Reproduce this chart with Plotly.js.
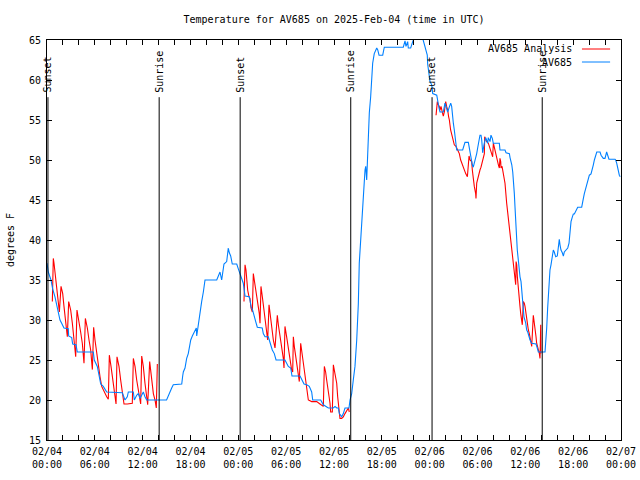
<!DOCTYPE html>
<html>
<head>
<meta charset="utf-8">
<script src="https://cdn.plot.ly/plotly-3.0.1.min.js"></script>
<style>html,body{margin:0;padding:0;background:#fff;}#chart{width:640px;height:480px;}</style>
</head>
<body>
<div id="chart"></div>
<script>
// Hours after 2025-02-04 00:00 UTC
const obsHours = [0,0.16,0.5,0.71,1.0,1.22,1.42,1.63,1.84,2.13,2.67,2.72,3.1,3.22,3.64,3.8,5.81,5.93,6.31,6.52,6.74,7.06,7.49,9.45,9.57,9.78,10.07,10.2,10.83,10.95,11.25,11.45,11.67,12.08,12.29,12.5,15.0,15.22,15.43,15.64,15.84,16.9,17.02,17.1,17.31,17.52,17.72,17.85,18.03,18.23,18.56,18.73,18.78,18.98,19.19,19.4,19.61,19.82,21.29,21.49,21.7,21.91,22.04,22.2,22.54,22.74,22.87,23.04,23.24,23.8,24.0,24.21,24.42,24.62,24.84,25.38,25.46,25.59,25.8,25.97,26.18,26.38,27.0,27.13,27.35,27.76,27.89,28.06,28.26,28.51,28.73,29.85,30.07,30.27,30.57,30.73,31.74,31.95,32.24,32.58,32.9,33.2,33.33,34.33,34.46,34.66,35.29,35.91,36.13,36.34,36.54,36.67,36.97,37.17,37.38,37.88,38.01,38.22,38.42,38.63,38.85,38.97,39.05,39.17,39.35,39.55,39.68,39.89,39.98,40.1,40.18,40.3,40.43,40.6,40.73,40.85,41.05,41.36,41.48,41.65,42.11,42.31,44.69,44.91,45.03,45.24,45.32,45.62,45.87,46.04,47.13,47.29,47.54,47.7,47.75,47.83,47.95,48.04,48.26,48.38,48.89,49.01,49.17,49.3,49.71,49.92,50.14,50.26,50.46,50.64,50.76,50.89,50.97,51.09,51.18,51.3,51.39,52.14,52.34,52.43,52.85,52.97,53.06,53.19,53.35,53.47,53.6,53.77,53.9,54.02,54.15,54.31,54.44,54.53,54.65,54.73,54.85,55.03,55.15,55.28,55.35,55.57,55.69,55.86,55.98,56.74,56.82,57.45,57.58,58.0,58.08,58.3,58.42,58.5,58.62,58.7,58.79,58.92,58.99,59.12,59.21,59.33,59.46,59.54,59.62,59.75,59.83,60.05,60.17,60.3,60.42,60.59,60.8,61.34,61.5,61.63,62.47,62.59,62.68,62.8,62.97,63.09,63.22,63.38,63.51,63.63,63.81,64.01,64.14,64.26,64.35,64.47,64.64,64.77,64.89,65.07,65.32,65.48,65.61,65.73,65.9,66.02,66.15,66.36,66.57,67.07,67.15,67.28,67.4,67.58,67.7,67.91,68.03,68.24,68.33,68.53,68.66,68.83,68.96,69.37,69.5,69.78,69.99,70.2,70.33,70.49,71.25,71.33,71.46,71.58,71.79,71.9];
const obsTemps = [37.1,36.0,35.0,33.9,32.9,31.8,30.8,30.0,29.6,29.0,28.9,28.0,27.8,27.0,26.9,26.0,26.0,25.0,24.2,23.3,22.0,21.7,21.0,20.9,20.5,20.0,20.4,21.0,21.0,20.0,20.6,20.8,20.2,21.0,20.4,20.0,20.0,20.6,21.0,21.5,21.9,22.0,23.0,23.5,24.0,25.2,25.8,26.5,27.5,28.0,28.75,29.0,28.0,29.6,30.6,32.3,33.5,35.0,35.0,35.6,36.0,35.0,36.0,37.0,37.3,39.0,38.4,38.0,37.0,37.0,36.4,35.8,35.2,34.6,33.0,32.9,32.5,31.7,31.2,30.4,29.8,29.1,29.0,28.3,27.9,27.9,27.5,26.9,26.25,25.8,25.0,25.0,24.6,24.2,24.0,23.0,23.0,22.5,22.0,21.9,21.7,21.0,20.0,20.0,19.8,19.4,19.0,19.0,19.2,19.0,19.0,18.3,17.9,18.3,19.0,19.0,20.0,20.8,22.5,24.2,27.5,29.6,32.0,37.1,40.0,43.75,46.25,48.75,49.2,47.5,49.5,53.4,55.9,57.9,60.0,62.1,63.3,64.0,63.8,63.1,63.1,64.1,64.1,64.9,64.2,64.8,64.0,64.0,64.8,65.2,65.2,64.6,64.0,63.1,62.0,61.25,60.0,59.8,59.4,58.3,58.1,57.1,56.5,56.0,56.0,57.1,56.5,56.0,56.6,57.1,56.7,55.8,54.6,53.75,52.7,52.1,51.25,51.25,51.9,52.2,52.2,51.5,50.6,50.0,49.4,49.1,49.6,50.0,50.8,51.5,52.3,53.1,53.1,52.5,50.9,51.5,52.1,52.8,52.5,52.1,52.8,52.3,53.1,52.7,52.1,52.1,51.25,51.25,50.9,50.8,50.3,49.4,48.5,47.7,45.8,44.2,42.1,40.5,38.75,37.5,36.2,35.4,34.8,33.75,32.5,31.5,30.4,29.6,28.75,28.5,27.9,27.5,27.1,27.0,26.5,26.0,26.0,27.3,29.0,31.5,34.6,36.25,36.9,38.3,38.75,38.5,37.9,38.0,39.4,40.1,39.4,38.75,38.4,38.0,38.5,38.75,39.0,39.6,40.8,42.3,42.9,43.25,43.25,43.75,44.1,44.1,44.8,45.2,45.8,46.4,47.1,47.7,48.1,48.25,48.75,49.4,50.0,50.5,51.0,51.0,50.6,50.2,50.2,51.0,50.6,50.1,50.1,50.0,49.6,49.0,48.1,47.9];

const anaHours = [0.67,0.79,0.88,1.09,1.21,1.34,1.55,1.76,1.97,2.13,2.38,2.55,2.72,2.97,3.18,3.3,3.6,3.76,4.01,4.22,4.43,4.64,4.81,5.06,5.27,5.48,5.69,5.85,6.02,6.23,6.44,6.65,6.86,7.15,7.49,7.69,7.82,8.03,8.24,8.4,8.66,8.78,9.03,9.24,9.45,9.66,10.08,10.7,10.83,11.04,11.25,11.54,11.75,11.88,12.08,12.29,12.5,12.63,12.88,13.13,13.34,13.55,13.71,13.84,
 19,
 24.71,24.84,24.96,25.05,25.17,25.34,25.46,25.59,25.76,25.88,26.01,26.17,26.3,26.51,26.63,26.72,26.84,27.01,27.14,27.26,27.43,27.55,27.68,27.85,27.97,28.1,28.26,28.39,28.6,28.89,29.02,29.23,29.35,29.52,29.64,29.73,29.85,30.06,30.19,30.36,30.48,30.69,30.82,30.9,31.02,31.19,31.32,31.53,31.65,31.82,31.94,32.15,32.28,32.45,32.57,32.7,32.78,33.2,33.83,34.24,34.66,34.79,34.95,35.08,35.21,35.37,35.5,35.58,35.79,35.92,36.04,36.21,36.34,36.46,36.54,36.63,36.75,36.96,37.17,37.38,37.59,37.8,37.92,
 43,
 48.8,48.96,49.09,49.21,49.3,49.42,49.63,49.71,49.84,50.01,50.13,50.26,50.38,50.47,50.63,50.89,51.09,51.3,51.51,51.72,51.89,52.1,52.31,52.52,52.73,52.85,52.94,53.06,53.27,53.35,53.48,53.6,53.77,53.81,53.9,54.02,54.19,54.31,54.44,54.61,54.73,54.86,54.9,55.03,55.15,55.36,55.57,55.78,55.9,55.99,56.07,56.2,56.41,56.62,56.74,56.82,56.91,56.95,57.08,57.24,57.37,57.45,57.66,57.87,57.99,58.08,58.29,58.5,58.63,58.71,58.79,58.84,58.92,59.0,59.13,59.21,59.33,59.42,59.54,59.62,59.75,59.87,59.96,60.04,60.17,60.29,60.38,60.5,60.59,60.71,60.8,61.0,61.09,61.17,61.25,61.34,61.42,61.55,61.63,61.76,61.84,61.93,61.95];
const anaTemps = [32.3,37.7,37.1,35.0,34.2,32.7,31.0,34.2,33.3,31.7,29.6,27.9,32.3,31.25,29.6,28.3,25.4,31.25,30.0,28.5,27.1,24.6,30.2,29.0,27.5,26.25,23.8,29.1,27.5,25.8,24.4,22.9,21.7,21.0,20.4,20.1,25.6,24.2,22.5,21.25,19.5,25.4,24.2,22.5,20.8,19.5,19.5,19.6,25.2,24.2,22.5,20.8,19.5,25.5,24.2,22.1,20.4,19.4,24.8,22.5,20.8,20.0,19.0,24.5,
 null,
 32.3,36.9,36.25,35.0,33.75,32.9,32.7,31.5,31.0,35.8,35.0,33.75,32.7,31.7,30.8,29.6,34.2,32.9,31.7,30.6,29.8,28.5,27.5,31.9,30.8,29.6,28.3,27.5,26.5,30.6,29.4,27.9,27.1,26.25,25.2,24.0,29.2,27.9,27.1,25.8,25.0,23.75,23.5,27.9,26.7,25.6,24.6,23.3,22.3,27.1,26.25,25.0,23.75,22.5,21.7,21.0,20.0,19.8,19.8,19.5,19.2,24.2,23.5,22.5,21.7,20.4,19.6,18.5,18.5,24.4,23.75,22.9,22.1,20.4,19.6,19.0,17.7,17.7,17.9,18.3,18.75,19.0,18.5,
 null,
 55.6,57.3,56.9,56.7,56.25,56.7,55.8,55.5,56.0,57.3,56.7,56.25,55.4,55.0,53.75,52.7,51.9,51.7,51.25,50.8,50.0,49.4,48.75,48.3,47.9,50.0,50.5,50.0,49.8,48.75,47.5,46.7,45.8,45.2,47.1,47.7,48.3,48.75,49.1,49.8,50.3,50.8,52.9,52.5,52.3,52.1,51.5,50.8,50.4,52.1,51.7,51.25,50.4,49.4,49.0,50.2,49.8,49.0,49.2,48.3,47.7,47.1,44.6,42.7,41.5,40.4,38.75,36.9,35.6,35.0,34.4,37.3,36.9,35.4,33.5,32.9,31.7,30.8,30.0,29.4,32.3,32.1,31.7,31.0,30.0,29.2,28.75,28.3,27.9,27.3,26.7,30.6,30.0,29.2,28.5,27.9,27.1,26.7,26.25,25.8,25.2,29.4,25.8];

const sunsetHours = [0.12, 24.23, 48.3];
const sunriseHours = [14.07, 38.1, 62.12];
const seriesNames = ['AV685 Analysis', 'AV685'];
const seriesColors = ['#ff0000', '#0080ff'];
const titleText = 'Temperature for AV685 on 2025-Feb-04 (time in UTC)';
const yLabel = 'degrees F';

const BASE = Date.UTC(2025, 1, 4);
function toDate(h) {
  const d = new Date(BASE + Math.round(h * 3600000));
  return d.toISOString().slice(0, 19).replace('T', ' ');
}
const FONT = {family: 'DejaVu Sans Mono, monospace', size: 10, color: '#000'};

const traces = [
  {x: anaHours.map(toDate), y: anaTemps, type: 'scatter', mode: 'lines', name: seriesNames[0],
   connectgaps: false, line: {color: seriesColors[0], width: 1.1}},
  {x: obsHours.map(toDate), y: obsTemps, type: 'scatter', mode: 'lines', name: seriesNames[1],
   line: {color: seriesColors[1], width: 1.1}}
];

const shapes = [];
const annotations = [];
function addEvent(h, label) {
  shapes.push({type: 'line', xref: 'x', yref: 'paper', x0: toDate(h), x1: toDate(h), y0: 0, y1: 0.857,
    line: {color: '#000', width: 1}});
  annotations.push({x: toDate(h), xref: 'x', y: 0.866, yref: 'paper', text: label, textangle: -90,
    showarrow: false, xanchor: 'center', yanchor: 'bottom', font: FONT, borderpad: 0});
}
sunsetHours.forEach(h => addEvent(h, 'Sunset'));
sunriseHours.forEach(h => addEvent(h, 'Sunrise'));

// legend (gnuplot style: text then line sample)
const legY = [0.9775, 0.945];
seriesNames.forEach((n, i) => {
  annotations.push({x: 0.9164, xref: 'paper', y: legY[i], yref: 'paper', text: n, showarrow: false,
    xanchor: 'right', yanchor: 'middle', font: FONT, borderpad: 0});
  shapes.push({type: 'line', xref: 'paper', yref: 'paper', x0: 0.932, x1: 0.981, y0: legY[i], y1: legY[i],
    line: {color: seriesColors[i], width: 1}});
});

const layout = {
  width: 640, height: 480,
  margin: {l: 47, r: 19, t: 40, b: 40, pad: 0},
  paper_bgcolor: '#fff', plot_bgcolor: '#fff',
  showlegend: false,
  font: FONT,
  title: {text: titleText, font: FONT, xref: 'paper', x: 0.5, xanchor: 'center', yref: 'container', y: 0.96, yanchor: 'middle'},
  xaxis: {
    type: 'date', range: [toDate(0), toDate(72)], tick0: toDate(0), dtick: 6 * 3600000,
    tickformat: '%m/%d<br>%H:%M', ticks: 'inside', ticklen: 5, tickcolor: '#000', tickwidth: 1,
    showline: true, linecolor: '#000', linewidth: 1, mirror: 'ticks', showgrid: false, zeroline: false,
    tickfont: FONT, automargin: false, ticklabelstandoff: 2,
    minor: {dtick: 2 * 3600000, tick0: toDate(0), ticks: 'inside', ticklen: 5, tickcolor: '#000', tickwidth: 1, showgrid: false}
  },
  yaxis: {
    range: [15, 65], dtick: 5, tick0: 15, ticks: 'inside', ticklen: 5, tickcolor: '#000', tickwidth: 1,
    showline: true, linecolor: '#000', linewidth: 1, mirror: 'ticks', showgrid: false, zeroline: false,
    tickfont: FONT, automargin: false, ticklabelstandoff: 3,
    title: {text: yLabel, font: FONT, standoff: 12}
  },
  shapes: shapes,
  annotations: annotations
};

Plotly.newPlot('chart', traces, layout, {staticPlot: true, displayModeBar: false});
</script>
</body>
</html>
